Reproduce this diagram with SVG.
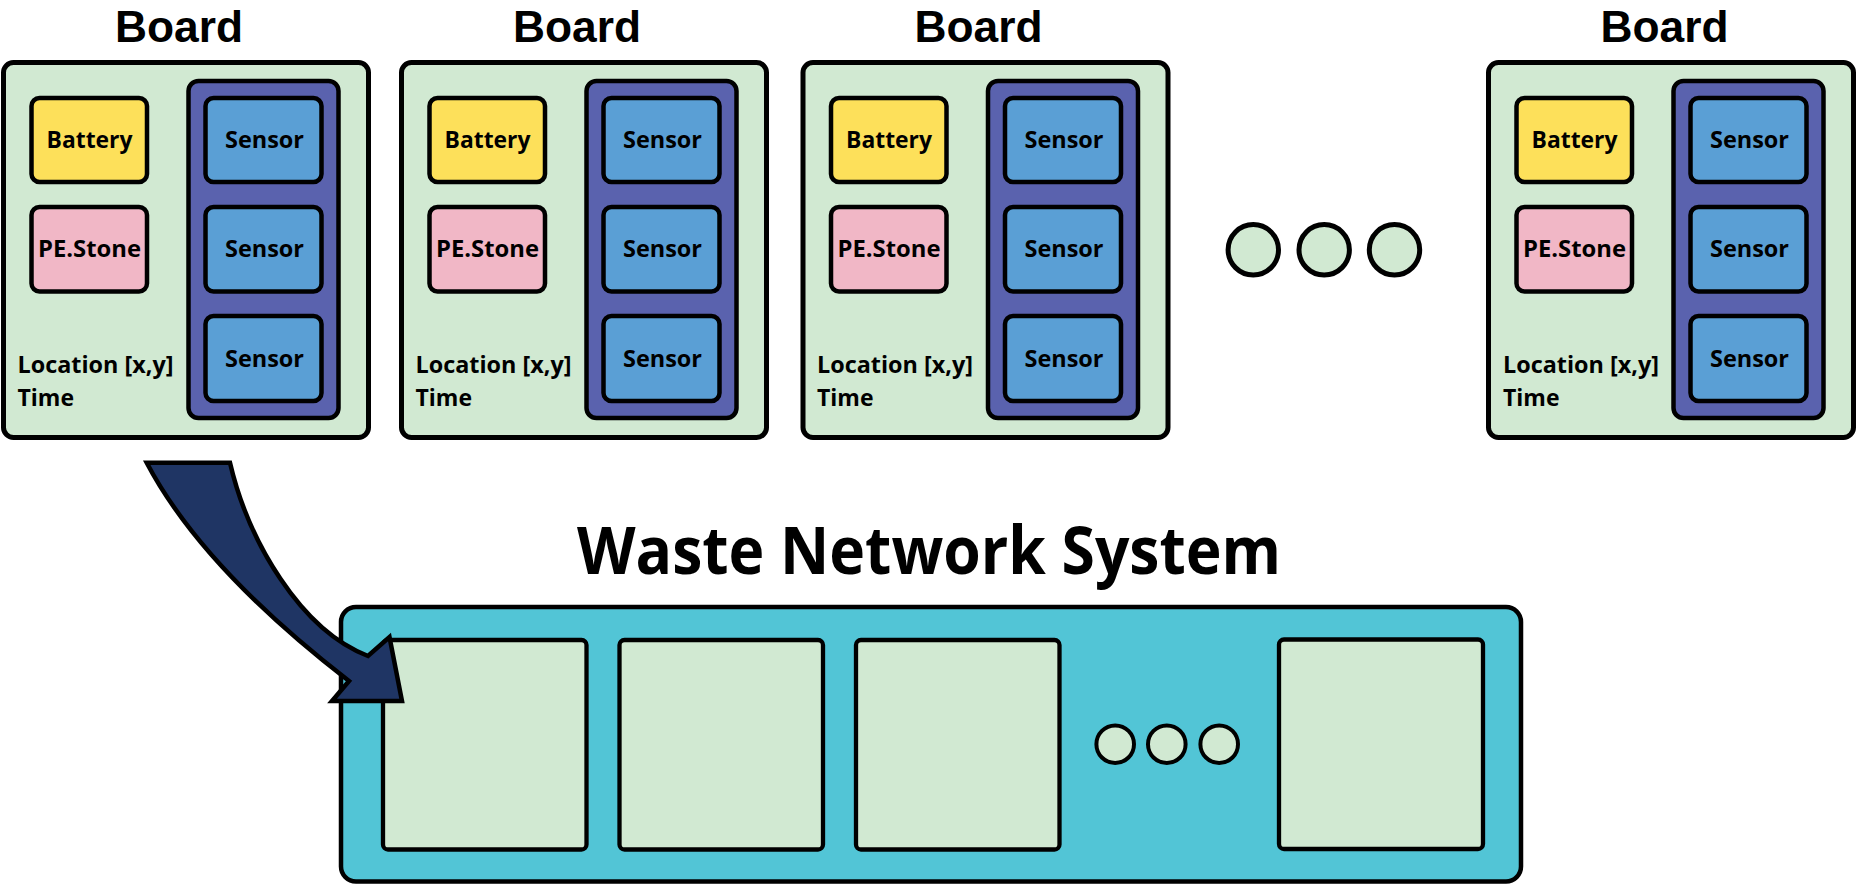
<svg xmlns="http://www.w3.org/2000/svg" width="1857" height="885" viewBox="0 0 1857 885">
<style>
  .board{fill:#d1e9d2;stroke:#000;stroke-width:5}
  .bat{fill:#fde05a;stroke:#000;stroke-width:4.5}
  .pe{fill:#f1b7c6;stroke:#000;stroke-width:4.5}
  .col{fill:#5a62ae;stroke:#000;stroke-width:4.5}
  .sen{fill:#5a9fd5;stroke:#000;stroke-width:4.5}
  .dot{fill:#d1e9d2;stroke:#000;stroke-width:5}
  .dot2{fill:#d1e9d2;stroke:#000;stroke-width:4}
  .wns{fill:#52c5d6;stroke:#000;stroke-width:4.5}
  .slot{fill:#d1e9d2;stroke:#000;stroke-width:4.3}
  .arrow{fill:#1f3564;stroke:#000;stroke-width:4.5;stroke-linejoin:miter}
  text{font-family:"Open Sans","Liberation Sans",sans-serif;font-weight:700;fill:#000}
  .title{font-family:"Liberation Sans","Open Sans",sans-serif;font-size:45px;text-anchor:middle}
  .lbl{font-size:24px;text-anchor:middle}
  .info{font-size:23px}
  .big{font-size:67px;text-anchor:middle}
</style>

<g id="board1">
  <text class="title" x="179" y="42" textLength="128" lengthAdjust="spacingAndGlyphs">Board</text>
  <rect class="board" x="3.5" y="62.5" width="365" height="375" rx="10"/>
  <g id="board1-battery"><rect class="bat" x="31.5" y="98" width="115.5" height="84" rx="8"/><text class="lbl" x="89.5" y="148" textLength="86" lengthAdjust="spacingAndGlyphs">Battery</text></g>
  <g id="board1-pestone"><rect class="pe" x="31.5" y="207" width="115.5" height="84.5" rx="8"/><text class="lbl" x="89.5" y="257" textLength="103" lengthAdjust="spacingAndGlyphs">PE.Stone</text></g>
  <rect class="col" x="188.5" y="81" width="150" height="337" rx="10"/>
  <g id="board1-sensor1"><rect class="sen" x="205.5" y="98" width="116" height="84" rx="8"/><text class="lbl" x="264.5" y="148" textLength="79" lengthAdjust="spacingAndGlyphs">Sensor</text></g>
  <g id="board1-sensor2"><rect class="sen" x="205.5" y="207" width="116" height="84.5" rx="8"/><text class="lbl" x="264.5" y="257" textLength="79" lengthAdjust="spacingAndGlyphs">Sensor</text></g>
  <g id="board1-sensor3"><rect class="sen" x="205.5" y="316" width="116" height="85" rx="8"/><text class="lbl" x="264.5" y="367" textLength="79" lengthAdjust="spacingAndGlyphs">Sensor</text></g>
  <text class="info" x="17.5" y="372.5" textLength="156" lengthAdjust="spacingAndGlyphs">Location [x,y]</text>
  <text class="info" x="17.5" y="406" textLength="56.5" lengthAdjust="spacingAndGlyphs">Time</text>
</g>

<g id="board2">
  <text class="title" x="577" y="42" textLength="128" lengthAdjust="spacingAndGlyphs">Board</text>
  <rect class="board" x="401.5" y="62.5" width="365" height="375" rx="10"/>
  <g id="board2-battery"><rect class="bat" x="429.5" y="98" width="115.5" height="84" rx="8"/><text class="lbl" x="487.5" y="148" textLength="86" lengthAdjust="spacingAndGlyphs">Battery</text></g>
  <g id="board2-pestone"><rect class="pe" x="429.5" y="207" width="115.5" height="84.5" rx="8"/><text class="lbl" x="487.5" y="257" textLength="103" lengthAdjust="spacingAndGlyphs">PE.Stone</text></g>
  <rect class="col" x="586.5" y="81" width="150" height="337" rx="10"/>
  <g id="board2-sensor1"><rect class="sen" x="603.5" y="98" width="116" height="84" rx="8"/><text class="lbl" x="662.5" y="148" textLength="79" lengthAdjust="spacingAndGlyphs">Sensor</text></g>
  <g id="board2-sensor2"><rect class="sen" x="603.5" y="207" width="116" height="84.5" rx="8"/><text class="lbl" x="662.5" y="257" textLength="79" lengthAdjust="spacingAndGlyphs">Sensor</text></g>
  <g id="board2-sensor3"><rect class="sen" x="603.5" y="316" width="116" height="85" rx="8"/><text class="lbl" x="662.5" y="367" textLength="79" lengthAdjust="spacingAndGlyphs">Sensor</text></g>
  <text class="info" x="415.5" y="372.5" textLength="156" lengthAdjust="spacingAndGlyphs">Location [x,y]</text>
  <text class="info" x="415.5" y="406" textLength="56.5" lengthAdjust="spacingAndGlyphs">Time</text>
</g>

<g id="board3">
  <text class="title" x="978.5" y="42" textLength="128" lengthAdjust="spacingAndGlyphs">Board</text>
  <rect class="board" x="803" y="62.5" width="365" height="375" rx="10"/>
  <g id="board3-battery"><rect class="bat" x="831" y="98" width="115.5" height="84" rx="8"/><text class="lbl" x="889" y="148" textLength="86" lengthAdjust="spacingAndGlyphs">Battery</text></g>
  <g id="board3-pestone"><rect class="pe" x="831" y="207" width="115.5" height="84.5" rx="8"/><text class="lbl" x="889" y="257" textLength="103" lengthAdjust="spacingAndGlyphs">PE.Stone</text></g>
  <rect class="col" x="988" y="81" width="150" height="337" rx="10"/>
  <g id="board3-sensor1"><rect class="sen" x="1005" y="98" width="116" height="84" rx="8"/><text class="lbl" x="1064" y="148" textLength="79" lengthAdjust="spacingAndGlyphs">Sensor</text></g>
  <g id="board3-sensor2"><rect class="sen" x="1005" y="207" width="116" height="84.5" rx="8"/><text class="lbl" x="1064" y="257" textLength="79" lengthAdjust="spacingAndGlyphs">Sensor</text></g>
  <g id="board3-sensor3"><rect class="sen" x="1005" y="316" width="116" height="85" rx="8"/><text class="lbl" x="1064" y="367" textLength="79" lengthAdjust="spacingAndGlyphs">Sensor</text></g>
  <text class="info" x="817" y="372.5" textLength="156" lengthAdjust="spacingAndGlyphs">Location [x,y]</text>
  <text class="info" x="817" y="406" textLength="56.5" lengthAdjust="spacingAndGlyphs">Time</text>
</g>

<g id="ellipsis-top">
  <circle class="dot" cx="1253.3" cy="249.8" r="25.2"/>
  <circle class="dot" cx="1324.2" cy="249.8" r="25.2"/>
  <circle class="dot" cx="1394.5" cy="249.8" r="25.2"/>
</g>

<g id="board4">
  <text class="title" x="1664.5" y="42" textLength="128" lengthAdjust="spacingAndGlyphs">Board</text>
  <rect class="board" x="1488.5" y="62.5" width="365" height="375" rx="10"/>
  <g id="board4-battery"><rect class="bat" x="1516.5" y="98" width="115.5" height="84" rx="8"/><text class="lbl" x="1574.5" y="148" textLength="86" lengthAdjust="spacingAndGlyphs">Battery</text></g>
  <g id="board4-pestone"><rect class="pe" x="1516.5" y="207" width="115.5" height="84.5" rx="8"/><text class="lbl" x="1574.5" y="257" textLength="103" lengthAdjust="spacingAndGlyphs">PE.Stone</text></g>
  <rect class="col" x="1673.5" y="81" width="150" height="337" rx="10"/>
  <g id="board4-sensor1"><rect class="sen" x="1690.5" y="98" width="116" height="84" rx="8"/><text class="lbl" x="1749.5" y="148" textLength="79" lengthAdjust="spacingAndGlyphs">Sensor</text></g>
  <g id="board4-sensor2"><rect class="sen" x="1690.5" y="207" width="116" height="84.5" rx="8"/><text class="lbl" x="1749.5" y="257" textLength="79" lengthAdjust="spacingAndGlyphs">Sensor</text></g>
  <g id="board4-sensor3"><rect class="sen" x="1690.5" y="316" width="116" height="85" rx="8"/><text class="lbl" x="1749.5" y="367" textLength="79" lengthAdjust="spacingAndGlyphs">Sensor</text></g>
  <text class="info" x="1503" y="372.5" textLength="156" lengthAdjust="spacingAndGlyphs">Location [x,y]</text>
  <text class="info" x="1503" y="406" textLength="56.5" lengthAdjust="spacingAndGlyphs">Time</text>
</g>

<g id="waste-network-system">
  <text class="big" x="929" y="574" textLength="704" lengthAdjust="spacingAndGlyphs">Waste Network System</text>
  <rect class="wns" x="341" y="607" width="1180" height="274.5" rx="15"/>
  <rect class="slot" x="383" y="640" width="203.5" height="209.5" rx="5"/>
  <rect class="slot" x="619.5" y="640" width="203.5" height="209.5" rx="5"/>
  <rect class="slot" x="856" y="640" width="203.5" height="209.5" rx="5"/>
  <circle class="dot2" cx="1115.2" cy="744.2" r="18.8"/>
  <circle class="dot2" cx="1166.8" cy="744.2" r="18.8"/>
  <circle class="dot2" cx="1219.2" cy="744.2" r="18.8"/>
  <rect class="slot" x="1279" y="639.5" width="204" height="209.5" rx="5"/>
</g>

<g id="connectors">
  <path class="arrow" d="M146.7,462.7 L230,462.7 C248,540 300,630 368,656 L389.5,637 L402,701 L332,701 L349,681 C270,620 190,545 146.7,462.7 Z"/>
</g>
</svg>
